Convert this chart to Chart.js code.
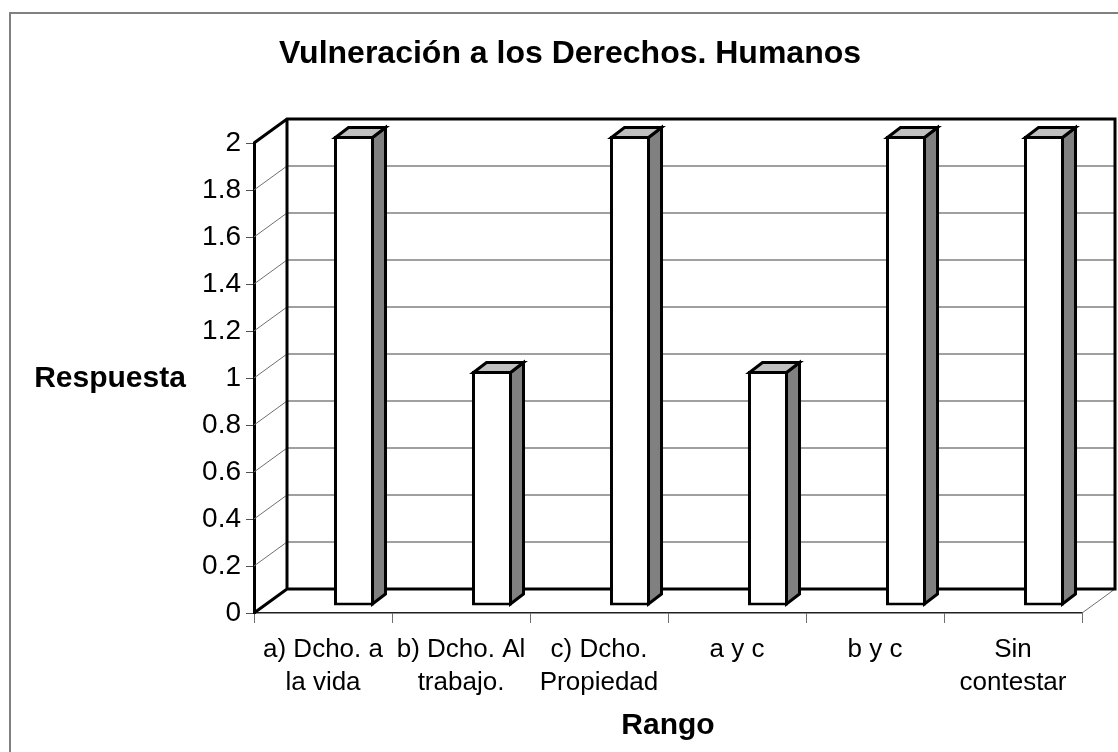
<!DOCTYPE html>
<html>
<head>
<meta charset="utf-8">
<script src="https://cdn.jsdelivr.net/npm/chart.js@4"></script>
<style>
  body { margin: 0; background: #fff; }
</style>
</head>
<body>
<canvas id="myChart" width="1118" height="752"></canvas>
<script>
// data
var categories = [['a) Dcho. a', 'la vida'], ['b) Dcho. Al', 'trabajo.'], ['c) Dcho.', 'Propiedad'], 'a y c', 'b y c', ['Sin', 'contestar']];
var respuestas = [2, 1, 2, 1, 2, 2];
var yTicks = [0, 0.2, 0.4, 0.6, 0.8, 1, 1.2, 1.4, 1.6, 1.8, 2];
var yTickLabels = ['0', '0.2', '0.4', '0.6', '0.8', '1', '1.2', '1.4', '1.6', '1.8', '2'];

var FONT = "'Liberation Sans', Arial, sans-serif";
var DEPTH_X = 33, DEPTH_Y = -24;   // back wall offset
var BAR_DX = 31, BAR_DY = -7;      // bars sit inside the box
var FACE_X = 13, FACE_Y = -10;     // bar depth

var frame3d = {
    id: 'frame3d',
    beforeDraw: function (chart) {
        var c = chart.ctx;
        c.save();
        c.fillStyle = '#fff';
        c.fillRect(0, 0, chart.width, chart.height);
        c.strokeStyle = '#808080';
        c.lineWidth = 2;
        c.strokeRect(10, 13, 1200, 800);
        c.restore();
    },
    beforeDatasetsDraw: function (chart) {
        var c = chart.ctx, a = chart.chartArea, y = chart.scales.y;
        var x0 = a.left, x1 = a.right, y0 = y.getPixelForValue(0), y2 = y.getPixelForValue(2);
        c.save();
        // grid on side wall and back wall
        yTicks.forEach(function (v) {
            if (v === 0) return;
            var py = y.getPixelForValue(v);
            c.lineWidth = 1;
            c.strokeStyle = '#707070';
            c.beginPath();
            c.moveTo(x0, py);
            c.lineTo(x0 + DEPTH_X, py + DEPTH_Y);
            c.stroke();
            c.strokeStyle = '#404040';
            c.beginPath();
            c.moveTo(x0 + DEPTH_X, py + DEPTH_Y);
            c.lineTo(x1 + DEPTH_X, py + DEPTH_Y);
            c.stroke();
        });
        // floor right edge
        c.strokeStyle = '#707070';
        c.lineWidth = 1;
        c.beginPath();
        c.moveTo(x1, y0);
        c.lineTo(x1 + DEPTH_X, y0 + DEPTH_Y);
        c.stroke();
        // heavy outline of the walls
        c.strokeStyle = '#000';
        c.lineWidth = 3;
        c.lineJoin = 'miter';
        c.beginPath();
        c.moveTo(x0, y2);
        c.lineTo(x0 + DEPTH_X, y2 + DEPTH_Y);
        c.lineTo(x1 + DEPTH_X, y2 + DEPTH_Y);
        c.lineTo(x1 + DEPTH_X, y0 + DEPTH_Y);
        c.lineTo(x0 + DEPTH_X, y0 + DEPTH_Y);
        c.lineTo(x0, y0);
        c.moveTo(x0 + DEPTH_X, y2 + DEPTH_Y);
        c.lineTo(x0 + DEPTH_X, y0 + DEPTH_Y);
        c.stroke();
        c.restore();

        // shift the bars into the box
        c.save();
        c.translate(BAR_DX, BAR_DY);
    },
    afterDatasetsDraw: function (chart) {
        var c = chart.ctx;
        var meta = chart.getDatasetMeta(0);
        meta.data.forEach(function (bar) {
            var p = bar.getProps(['x', 'y', 'base', 'width'], true);
            var l = p.x - p.width / 2 + 1.5, r = p.x + p.width / 2 - 1.5;
            var t = p.y + 1.5, b = p.base - 1.5;
            c.lineWidth = 3;
            c.lineJoin = 'miter';
            c.strokeStyle = '#000';
            // side
            c.fillStyle = '#808080';
            c.beginPath();
            c.moveTo(r, t);
            c.lineTo(r + FACE_X, t + FACE_Y);
            c.lineTo(r + FACE_X, b + FACE_Y);
            c.lineTo(r, b);
            c.closePath();
            c.fill();
            c.stroke();
            // top
            c.fillStyle = '#c0c0c0';
            c.beginPath();
            c.moveTo(l, t);
            c.lineTo(l + FACE_X, t + FACE_Y);
            c.lineTo(r + FACE_X, t + FACE_Y);
            c.lineTo(r, t);
            c.closePath();
            c.fill();
            c.stroke();
        });
        c.restore();

        // titles
        c.save();
        c.fillStyle = '#000';
        c.textAlign = 'center';
        c.textBaseline = 'middle';
        c.font = 'bold 32px ' + FONT;
        c.fillText('Vulneración a los Derechos. Humanos', 570, 54);
        c.font = 'bold 30px ' + FONT;
        c.fillText('Respuesta', 110, 379);
        c.restore();
    }
};

var ctx = document.getElementById('myChart').getContext('2d');
var myChart = new Chart(ctx, {
    type: 'bar',
    data: {
        labels: categories,
        datasets: [{
            label: 'Respuesta',
            data: respuestas,
            backgroundColor: '#ffffff',
            borderColor: '#000000',
            borderWidth: 3,
            borderSkipped: false,
            categoryPercentage: 1,
            barPercentage: 0.29,
            clip: false
        }]
    },
    options: {
        responsive: false,
        animation: false,
        events: [],
        layout: {
            padding: { top: 143, right: 36, left: 0, bottom: 0 }
        },
        plugins: {
            legend: { display: false },
            title: { display: false },
            tooltip: { enabled: false }
        },
        scales: {
            x: {
                grid: {
                    offset: true,
                    drawOnChartArea: false,
                    drawTicks: true,
                    tickLength: 10,
                    color: '#707070'
                },
                border: { display: true, color: '#202020', width: 1.5 },
                ticks: {
                    color: '#000',
                    padding: 11,
                    maxRotation: 0,
                    autoSkip: false,
                    font: { family: FONT, size: 26, lineHeight: 1.25 }
                },
                title: {
                    display: true,
                    text: 'Rango',
                    color: '#000',
                    padding: { top: 0, bottom: 8 },
                    font: { family: FONT, size: 30, weight: 'bold' }
                },
                afterFit: function (scale) { scale.height = 139; }
            },
            y: {
                min: 0,
                max: 2,
                afterBuildTicks: function (scale) {
                    scale.ticks = yTicks.map(function (v) { return { value: v }; });
                },
                grid: {
                    drawOnChartArea: false,
                    drawTicks: true,
                    tickLength: 8,
                    color: '#505050'
                },
                border: { display: true, color: '#000', width: 3 },
                ticks: {
                    color: '#000',
                    padding: 5,
                    font: { family: FONT, size: 28 },
                    callback: function (v, i) { return yTickLabels[i]; }
                },
                afterFit: function (scale) { scale.width = 254; }
            }
        }
    },
    plugins: [frame3d]
});
</script>
</body>
</html>
